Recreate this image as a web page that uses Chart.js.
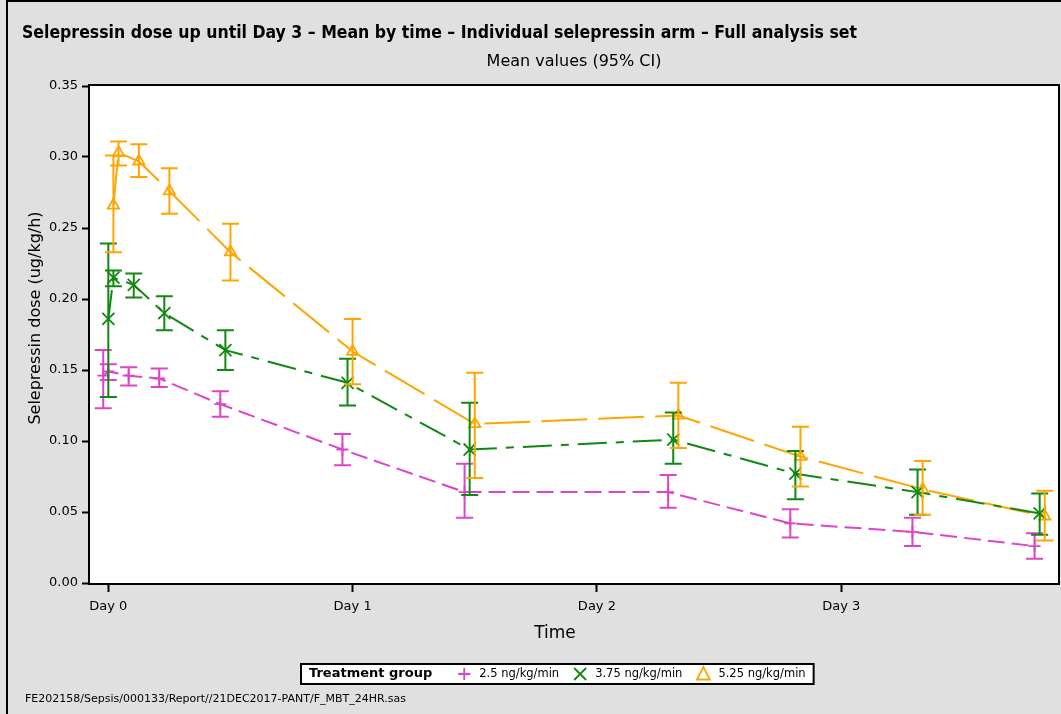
<!DOCTYPE html>
<html>
<head>
<meta charset="utf-8">
<script src="https://cdn.jsdelivr.net/npm/chart.js@4.4.1/dist/chart.umd.min.js"></script>
<style>
  html, body { margin: 0; padding: 0; background: #e0e0e0; }
  #wrap { position: relative; width: 1061px; height: 714px; }
</style>
</head>
<body>
<div id="wrap"><canvas id="chart-dose" width="1061" height="714"></canvas></div>
<script>
// nominal time points (hours since start)
const timeHours = [0.5, 1, 3, 6, 12, 24, 36, 56, 68, 80, 92];
const dayTickValues = [0, 24, 48, 72];
const dayTickLabels = ['Day 0', 'Day 1', 'Day 2', 'Day 3'];
const yTickStep = 0.05;

const groupLabels = ['2.5 ng/kg/min', '3.75 ng/kg/min', '5.25 ng/kg/min'];

const mean25  = [0.146, 0.149, 0.146, 0.144, 0.126, 0.094, 0.064, 0.064, 0.042, 0.036, 0.026];
const lower25 = [0.123, 0.143, 0.139, 0.138, 0.117, 0.083, 0.046, 0.053, 0.032, 0.026, 0.017];
const upper25 = [0.164, 0.154, 0.152, 0.151, 0.135, 0.105, 0.084, 0.076, 0.052, 0.046, 0.035];

const mean375  = [0.186, 0.215, 0.210, 0.190, 0.164, 0.141, 0.094, 0.101, 0.077, 0.064, 0.049];
const lower375 = [0.131, 0.209, 0.201, 0.178, 0.150, 0.125, 0.062, 0.084, 0.059, 0.048, 0.034];
const upper375 = [0.239, 0.220, 0.218, 0.202, 0.178, 0.158, 0.127, 0.120, 0.093, 0.080, 0.063];

const mean525  = [0.266, 0.303, 0.297, 0.276, 0.233, 0.163, 0.112, 0.118, 0.089, 0.066, 0.047];
const lower525 = [0.233, 0.294, 0.286, 0.260, 0.213, 0.140, 0.074, 0.095, 0.068, 0.048, 0.030];
const upper525 = [0.301, 0.311, 0.309, 0.292, 0.253, 0.186, 0.148, 0.141, 0.110, 0.086, 0.065];

const titleText = 'Selepressin dose up until Day 3 \u2013 Mean by time \u2013 Individual selepressin arm \u2013 Full analysis set';
const subtitleText = 'Mean values (95% CI)';
const xTitle = 'Time';
const yTitle = 'Selepressin dose (ug/kg/h)';
const legendTitle = 'Treatment group';
const footerText = 'FE202158/Sepsis/000133/Report//21DEC2017-PANT/F_MBT_24HR.sas';

const FONT = '"DejaVu Sans", Verdana, sans-serif';

// groups are slightly shifted on the time axis so bars do not overlap
function series(label, means, lows, highs, shift, color, style, radius, dash) {
    return {
        label: label,
        data: timeHours.map((t, i) => ({ x: t + shift, y: means[i] })),
        lower: lows,
        upper: highs,
        borderColor: color,
        backgroundColor: color,
        borderWidth: 2,
        borderDash: dash,
        pointStyle: style,
        pointRadius: radius,
        pointHoverRadius: radius,
        pointBorderWidth: 1.8,
        pointBorderColor: color,
        pointBackgroundColor: 'rgba(0,0,0,0)',
        tension: 0
    };
}

const errorBars = {
    id: 'errorBars',
    afterDatasetsDraw(chart) {
        const ctx = chart.ctx;
        const xs = chart.scales.x, ys = chart.scales.y;
        const cap = 8.5;
        chart.data.datasets.forEach((ds) => {
            ctx.save();
            ctx.strokeStyle = ds.borderColor;
            ctx.lineWidth = 2;
            ds.data.forEach((p, j) => {
                const x = xs.getPixelForValue(p.x);
                const lo = ys.getPixelForValue(ds.lower[j]);
                const hi = ys.getPixelForValue(ds.upper[j]);
                ctx.beginPath();
                ctx.moveTo(x, lo); ctx.lineTo(x, hi);
                ctx.moveTo(x - cap, lo); ctx.lineTo(x + cap, lo);
                ctx.moveTo(x - cap, hi); ctx.lineTo(x + cap, hi);
                ctx.stroke();
            });
            ctx.restore();
        });
    }
};

function marker(ctx, style, x, y, color) {
    ctx.save();
    ctx.strokeStyle = color;
    ctx.lineWidth = 1.8;
    ctx.beginPath();
    if (style === 'cross') {
        ctx.moveTo(x - 6, y); ctx.lineTo(x + 6, y);
        ctx.moveTo(x, y - 6); ctx.lineTo(x, y + 6);
    } else if (style === 'crossRot') {
        ctx.moveTo(x - 6, y - 6); ctx.lineTo(x + 6, y + 6);
        ctx.moveTo(x - 6, y + 6); ctx.lineTo(x + 6, y - 6);
    } else {
        ctx.moveTo(x, y - 7); ctx.lineTo(x + 6.5, y + 5.5); ctx.lineTo(x - 6.5, y + 5.5); ctx.closePath();
    }
    ctx.stroke();
    ctx.restore();
}

const decorations = {
    id: 'decorations',
    beforeDraw(chart) {
        const ctx = chart.ctx, a = chart.chartArea;
        ctx.save();
        ctx.fillStyle = '#e0e0e0';
        ctx.fillRect(0, 0, chart.width, chart.height);
        ctx.fillStyle = '#000';
        ctx.fillRect(6, 0, 2, chart.height);
        ctx.fillRect(6, 0, chart.width, 2);
        ctx.fillStyle = '#fff';
        ctx.fillRect(a.left, a.top, a.right - a.left, a.bottom - a.top);
        ctx.restore();
    },
    afterDraw(chart) {
        const ctx = chart.ctx, a = chart.chartArea;
        ctx.save();
        // plot frame
        ctx.strokeStyle = '#000';
        ctx.lineWidth = 2;
        ctx.strokeRect(a.left - 1, a.top - 1, a.right - a.left + 2, a.bottom - a.top + 2);

        ctx.fillStyle = '#000';
        // title, stretched to the width SAS gives it
        ctx.font = 'bold 17px "DejaVu Sans Condensed", ' + FONT;
        ctx.textBaseline = 'alphabetic';
        ctx.textAlign = 'left';
        const tw = ctx.measureText(titleText).width;
        ctx.save();
        ctx.translate(22, 38);
        ctx.scale(835 / tw, 1);
        ctx.fillText(titleText, 0, 0);
        ctx.restore();

        ctx.font = '16px ' + FONT;
        ctx.textAlign = 'center';
        ctx.fillText(subtitleText, (a.left + a.right) / 2, 66);

        // axis titles
        ctx.font = '17px ' + FONT;
        ctx.textBaseline = 'middle';
        ctx.fillText(xTitle, 555, 634);
        ctx.save();
        ctx.translate(36, 318);
        ctx.rotate(-Math.PI / 2);
        ctx.font = '16px ' + FONT;
        ctx.fillText(yTitle, 0, 0);
        ctx.restore();

        // legend
        const ly = 674;
        let x = 309;
        ctx.textAlign = 'left';
        ctx.font = 'bold 13px ' + FONT;
        const parts = [];
        const titleW = ctx.measureText(legendTitle).width;
        ctx.font = '11.5px ' + FONT;
        let cx = x + titleW + 32;
        chart.data.datasets.forEach((ds) => {
            const w = ctx.measureText(ds.label).width;
            parts.push({ mx: cx, tx: cx + 15, ds: ds });
            cx = cx + 15 + w + 21;
        });
        const boxRight = cx - 21 + 8;
        ctx.fillStyle = '#fff';
        ctx.fillRect(301, 664, boxRight - 301, 20);
        ctx.strokeStyle = '#000';
        ctx.lineWidth = 2;
        ctx.strokeRect(301, 664, boxRight - 301, 20);
        ctx.fillStyle = '#000';
        ctx.font = 'bold 13px ' + FONT;
        ctx.fillText(legendTitle, x, ly);
        ctx.font = '11.5px ' + FONT;
        parts.forEach((p) => {
            marker(ctx, p.ds.pointStyle, p.mx, ly, p.ds.borderColor);
            ctx.fillStyle = '#000';
            ctx.fillText(p.ds.label, p.tx, ly);
        });

        // footer
        ctx.font = '11px ' + FONT;
        ctx.textBaseline = 'alphabetic';
        ctx.fillText(footerText, 25, 702);
        ctx.restore();
    }
};

new Chart(document.getElementById('chart-dose'), {
    type: 'line',
    data: {
        datasets: [
            series(groupLabels[0], mean25, lower25, upper25, -1, '#dd44cc', 'cross', 6, [17, 7]),
            series(groupLabels[1], mean375, lower375, upper375, -0.5, '#118811', 'crossRot', 8.5, [29, 9, 8, 9]),
            series(groupLabels[2], mean525, lower525, upper525, 0, '#ffa500', 'triangle', 6.5, [46, 11])
        ]
    },
    options: {
        responsive: false,
        animation: false,
        devicePixelRatio: 1,
        layout: { autoPadding: false, padding: { left: 0, top: 86, right: 3, bottom: 91 } },
        plugins: {
            legend: { display: false },
            tooltip: { enabled: false },
            title: { display: false }
        },
        scales: {
            x: {
                type: 'linear',
                min: -1.8,
                max: 93.3,
                afterFit: (s) => { s.height = 40; s.paddingLeft = 0; s.paddingRight = 0; },
                afterBuildTicks: (s) => { s.ticks = dayTickValues.map((v) => ({ value: v })); },
                ticks: {
                    color: '#000',
                    font: { family: FONT, size: 13 },
                    padding: 7,
                    maxRotation: 0,
                    callback: (v) => dayTickLabels[dayTickValues.indexOf(v)]
                },
                grid: { drawOnChartArea: false, tickLength: 9, tickColor: '#000', tickWidth: 2 },
                border: { display: false }
            },
            y: {
                min: 0,
                max: 0.35,
                afterFit: (s) => { s.width = 90; s.paddingTop = 0; s.paddingBottom = 0; },
                ticks: {
                    stepSize: yTickStep,
                    color: '#000',
                    font: { family: FONT, size: 13 },
                    padding: 4,
                    callback: (v) => v.toFixed(2)
                },
                grid: { drawOnChartArea: false, tickLength: 8, tickColor: '#000', tickWidth: 2 },
                border: { display: false }
            }
        }
    },
    plugins: [errorBars, decorations]
});
</script>
</body>
</html>
